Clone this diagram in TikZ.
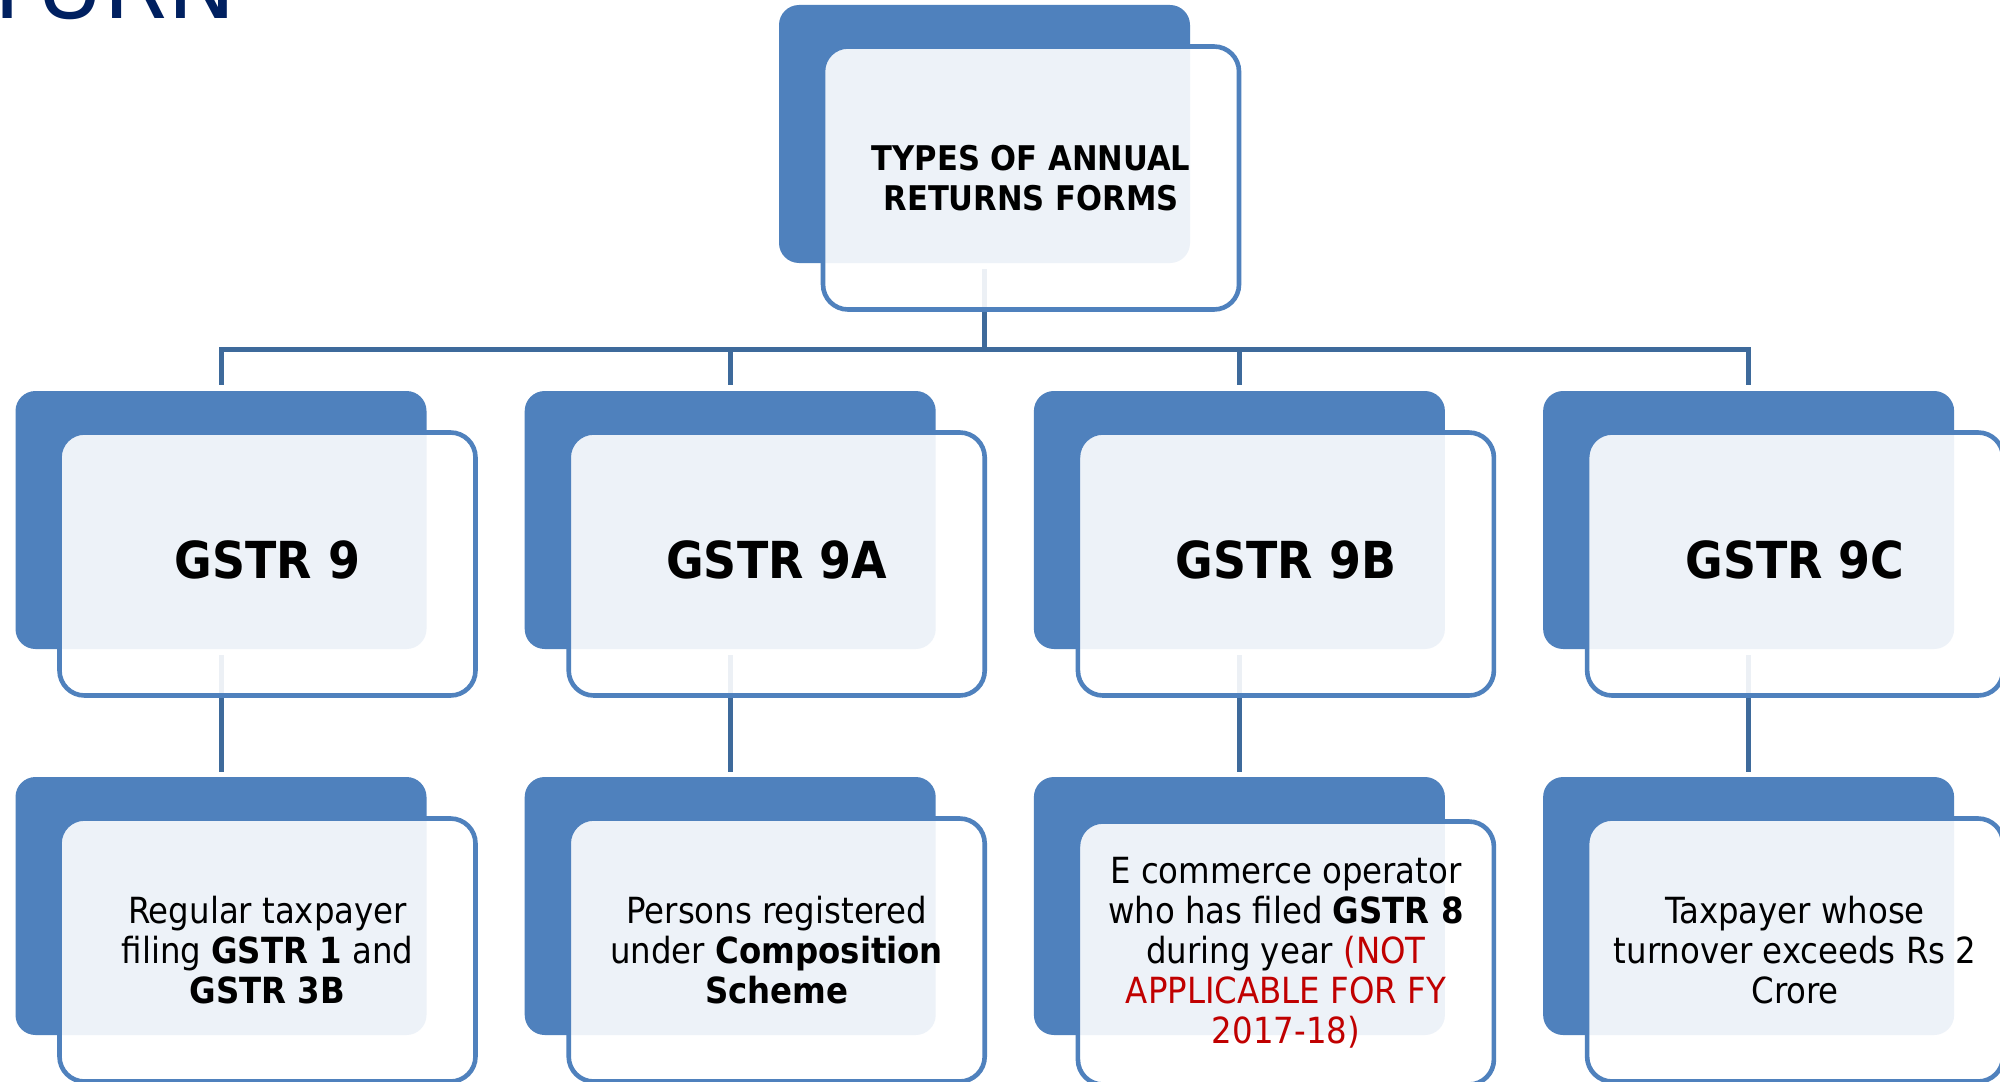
\documentclass[tikz,border=0pt]{standalone}
\usepackage{fontspec}
\setmainfont{DejaVu Sans Condensed}
\newfontfamily\titlefont{DejaVu Sans}
\definecolor{accent}{RGB}{79,129,189}
\definecolor{linkblue}{RGB}{62,106,155}
\definecolor{navy}{RGB}{0,32,96}
\definecolor{warn}{RGB}{192,0,0}
\newcommand{\lifted}[1]{\raisebox{2pt}[\height][\depth]{#1}}
\tikzset{
  darkbox/.style={fill=accent, rounded corners=10pt, minimum width=205.5pt,
    minimum height=129pt, inner sep=0pt},
  frontbox/.style={fill=white, fill opacity=0.9, text opacity=1, draw=accent,
    line width=2.3pt, rounded corners=12.5pt, minimum width=208pt,
    minimum height=131.5pt, inner sep=0pt, align=center, text=black},
  headtext/.style={font={\fontsize{25.5pt}{30pt}\selectfont\bfseries}},
  toptext/.style={font={\fontsize{17pt}{20pt}\selectfont\bfseries}},
  leaftext/.style={font={\fontsize{18pt}{20pt}\selectfont}},
  conn/.style={draw=linkblue, line width=2.5pt}
}
\begin{document}
\begin{tikzpicture}[x=0.5pt, y=-0.5pt]
  \useasboundingbox (0,0) rectangle (2000,1081);
  \fill[white] (0,0) rectangle (2000,1081);
  \clip (0,0) rectangle (2000,1081);

  % slide heading, running off the top edge
  \node[anchor=base west, inner sep=0pt, text=navy,
        font={\titlefont\fontsize{46pt}{50pt}\selectfont}] (heading) at (-20.5,19) {TURN};

  % back panels
  \node[darkbox] (t0) at (984.5,134) {};
  \foreach \i/\x in {1/221, 2/730.2, 3/1239.4, 4/1748.6} {
    \node[darkbox] (h\i) at (\x,520) {};
    \node[darkbox] (b\i) at (\x,906) {};
  }

  % connectors
  \coordinate (bus) at (984.5,349.5);
  \draw[conn] ([yshift=-3pt]t0.south) -- (t0.south |- bus);
  \draw[conn] ([yshift=3pt]h1.north) -- (h1.north |- bus) -- (h4.north |- bus) -- ([yshift=3pt]h4.north);
  \draw[conn] (h2.north |- bus) -- ([yshift=3pt]h2.north);
  \draw[conn] (h3.north |- bus) -- ([yshift=3pt]h3.north);
  \foreach \i in {1,...,4} {
    \draw[conn] ([yshift=-3pt]h\i.south) -- ([yshift=2.5pt]b\i.north);
  }

  % front panels with their texts
  \node[frontbox, toptext] (top) at ([xshift=23.25pt, yshift=-22pt]t0.center)
    {TYPES OF ANNUAL\\RETURNS FORMS};

  \node[frontbox, headtext] (g9)  at ([xshift=23.25pt, yshift=-22pt]h1.center) {\lifted{GSTR 9}};
  \node[frontbox, headtext] (g9a) at ([xshift=23.25pt, yshift=-22pt]h2.center) {\lifted{GSTR 9A}};
  \node[frontbox, headtext] (g9b) at ([xshift=23.25pt, yshift=-22pt]h3.center) {\lifted{GSTR 9B}};
  \node[frontbox, headtext] (g9c) at ([xshift=23.25pt, yshift=-22pt]h4.center) {\lifted{GSTR 9C}};

  \node[frontbox, leaftext] (l1) at ([xshift=23.25pt, yshift=-22pt]b1.center)
    {Regular taxpayer\\filing \textbf{GSTR 1} and\\\textbf{GSTR 3B}};
  \node[frontbox, leaftext] (l2) at ([xshift=23.25pt, yshift=-22pt]b2.center)
    {Persons registered\\under \textbf{Composition}\\\textbf{Scheme}};
  \node[frontbox, leaftext] (l3) at ([xshift=23.25pt, yshift=-23.5pt]b3.center)
    {E commerce operator\\who has filed \textbf{GSTR 8}\\during year {\color{warn}(NOT}\\{\color{warn}APPLICABLE FOR FY}\\{\color{warn}2017-18)}};
  \node[frontbox, leaftext] (l4) at ([xshift=23.25pt, yshift=-22pt]b4.center)
    {Taxpayer whose\\turnover exceeds Rs 2\\Crore};
\end{tikzpicture}
\end{document}
